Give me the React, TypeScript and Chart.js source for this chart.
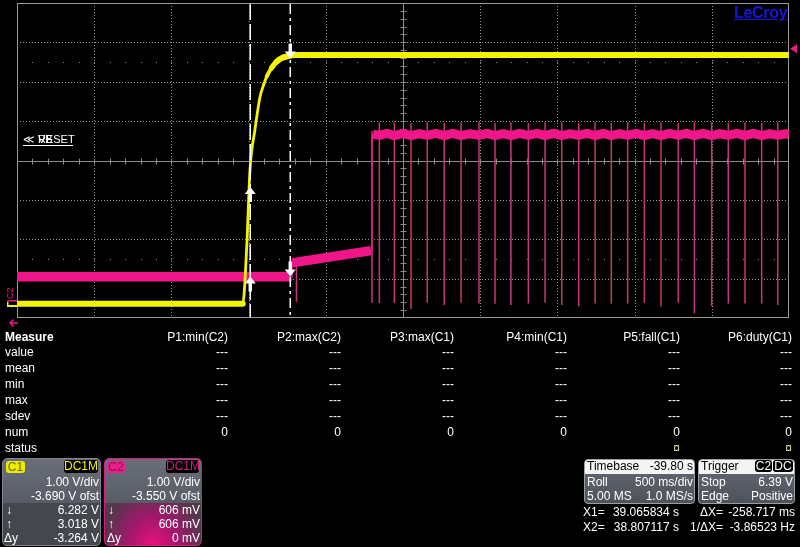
import React, { useEffect, useRef } from "react";
import { Chart, registerables } from "chart.js";
Chart.register(...registerables);

// ---------------- data ----------------
// x axis: milliseconds across the screen (10 div x 500 ms/div)
const TIME_MIN_MS = 0;
const TIME_MAX_MS = 5000;
const TIME_PER_DIV_MS = 500;
// y axes: volts, 1.00 V/div, 8 div
const C1_RANGE = [-0.31, 7.69];
const C2_RANGE = [-0.45, 7.55];

// C1 (yellow)
const C1_TIMES = [0, 1462, 1488, 1509, 1541, 1574, 1598, 1617, 1648, 1682, 1714, 1747, 1800, 5000];
const C1_VOLTS = [0.05, 0.05, 1.5, 3.45, 4.47, 5.31, 5.62, 5.82, 6.04, 6.2, 6.29, 6.33, 6.37, 6.37];

// C2 (pink) band
const C2_TIMES = [
  0, 1779, 1781, 2293, 2299, 2306, 2347, 2395, 2444, 2498, 2552, 2605, 2657, 2712, 2767, 2822,
  2876, 2934, 2992, 3044, 3096, 3148, 3199, 3256, 3312, 3366, 3420, 3474, 3528, 3583, 3638, 3691,
  3744, 3797, 3849, 3902, 3955, 4009, 4063, 4117, 4171, 4227, 4283, 4335, 4387, 4443, 4499, 4553,
  4607, 4661, 4715, 4769, 4823, 4875, 4927, 4975, 5000,
];
const C2_VOLTS = [
  0.6, 0.6, 0.95, 1.26, 4.12, 4.22, 4.19, 4.24, 4.18, 4.24, 4.18, 4.23, 4.19, 4.24, 4.18, 4.24,
  4.18, 4.23, 4.19, 4.24, 4.18, 4.23, 4.18, 4.24, 4.19, 4.24, 4.18, 4.24, 4.18, 4.23, 4.19, 4.24,
  4.18, 4.24, 4.18, 4.23, 4.19, 4.24, 4.18, 4.23, 4.18, 4.24, 4.19, 4.24, 4.18, 4.24, 4.18, 4.23,
  4.19, 4.24, 4.18, 4.24, 4.18, 4.23, 4.19, 4.23, 4.21,
];

// C2 narrow spikes
const C2_SPIKE_TIMES = [
  1810, 2299, 2347, 2444, 2552, 2657, 2767, 2876, 2992, 3096, 3199, 3312, 3420, 3528, 3638, 3744,
  3849, 3955, 4063, 4171, 4283, 4387, 4499, 4607, 4715, 4823, 4927,
];
const C2_SPIKE_TOPS = [
  0.96, 4.3, 4.52, 4.52, 4.5, 4.52, 4.5, 4.52, 4.52, 4.5, 4.52, 4.5, 4.52, 4.52, 4.5, 4.52,
  4.5, 4.52, 4.5, 4.52, 4.5, 4.52, 4.52, 4.5, 4.52, 4.5, 4.52,
];
const C2_SPIKE_BOTTOMS = [
  -0.04, -0.06, -0.07, -0.07, -0.22, -0.06, -0.12, -0.06, -0.08, -0.09, -0.12, -0.08, -0.06, -0.12, -0.15, -0.08,
  -0.09, -0.08, -0.06, -0.16, -0.06, -0.33, -0.15, -0.08, -0.08, -0.08, -0.12,
];

// cursors: X1, X2
const CURSOR_TIMES = [1508, 1767];
const C1_CURSOR_VOLTS = [3.018, 6.282];
const C2_CURSOR_VOLTS = [0.606, 0.606];
const C2_TRIGGER_LEVEL = 6.39;

// readouts
const MEASURE_PARAMS = ["P1:min(C2)", "P2:max(C2)", "P3:max(C1)", "P4:min(C1)", "P5:fall(C1)", "P6:duty(C1)"];
const MEASURE_ROWS = ["value", "mean", "min", "max", "sdev", "num", "status"];
const MEASURE_VALUES = ["---", "---", "---", "---", "---", "0"];
const MEASURE_STATUS = ["", "", "", "", "¤", "¤"];
const C1_INFO = ["1.00 V/div", "-3.690 V ofst", "6.282 V", "3.018 V", "-3.264 V"];
const C2_INFO = ["1.00 V/div", "-3.550 V ofst", "606 mV", "606 mV", "0 mV"];
const TIMEBASE_INFO = ["-39.80 s", "500 ms/div", "5.00 MS", "1.0 MS/s"];
const TRIGGER_INFO = ["6.39 V", "Positive"];
const CURSOR_INFO = ["39.065834 s", "38.807117 s", "-258.717 ms", "-3.86523 Hz"];

// ---------------- chart ----------------
const YELLOW = "#f4f400";
const PINK = "#f0168a";
const SPIKE = "#c4377a";

const scopePlugin = {
  id: "scope",
  beforeDatasetsDraw(chart: any) {
    const { ctx, chartArea: a, scales } = chart;
    const xs = scales.x;
    const ys = scales.y1;
    const px = (v: number) => Math.round(xs.getPixelForValue(v)) + 0.5;
    const py = (v: number) => Math.round(ys.getPixelForValue(v)) + 0.5;
    const line = (x1: number, y1: number, x2: number, y2: number) => {
      ctx.beginPath();
      ctx.moveTo(x1, y1);
      ctx.lineTo(x2, y2);
      ctx.stroke();
    };
    ctx.save();
    ctx.lineWidth = 1;
    ctx.strokeStyle = "#959595";
    ctx.setLineDash([1, 2]);
    for (let i = 1; i < 10; i++) {
      if (i === 5) continue;
      const x = px(TIME_MIN_MS + i * TIME_PER_DIV_MS);
      line(x, a.top, x, a.bottom);
    }
    for (let j = 1; j < 8; j++) {
      if (j === 4) continue;
      const y = py(C1_RANGE[0] + j);
      line(a.left, y, a.right, y);
    }
    ctx.setLineDash([]);
    // minor dot rows
    ctx.fillStyle = "#8a8a8a";
    for (const d of [1.5, 6.5]) {
      const y = Math.round(ys.getPixelForValue(C1_RANGE[0] + d));
      for (let k = 1; k < 50; k++) {
        const x = Math.round(xs.getPixelForValue(TIME_MIN_MS + (k * TIME_PER_DIV_MS) / 5));
        ctx.fillRect(x, y, 1, 1);
      }
    }
    // center cross
    ctx.strokeStyle = "#8c8c8c";
    const cx = px(TIME_MIN_MS + 5 * TIME_PER_DIV_MS);
    const cy = py(C1_RANGE[0] + 4);
    line(a.left, cy, a.right, cy);
    line(cx, a.top, cx, a.bottom);
    for (let k = 1; k < 50; k++) {
      const x = px(TIME_MIN_MS + (k * TIME_PER_DIV_MS) / 5);
      line(x, cy - 3, x, cy + 3);
    }
    for (let k = 1; k < 40; k++) {
      const y = py(C1_RANGE[0] + k / 5);
      line(cx - 3, y, cx + 3, y);
    }
    // frame
    ctx.strokeStyle = "#9a9a9a";
    ctx.strokeRect(a.left + 0.5, a.top + 0.5, a.right - a.left - 1, a.bottom - a.top - 1);
    ctx.restore();
  },
  afterDatasetsDraw(chart: any) {
    const { ctx, chartArea: a, scales } = chart;
    const xs = scales.x;
    const y1 = scales.y1;
    const y2 = scales.y2;
    ctx.save();
    // cursor lines
    ctx.strokeStyle = "#ffffff";
    ctx.lineWidth = 1.5;
    const dashes = [[16, 4], [10, 4, 3, 4]];
    CURSOR_TIMES.forEach((t, i) => {
      const x = Math.round(xs.getPixelForValue(t)) + 0.25;
      ctx.setLineDash(dashes[i]);
      ctx.beginPath();
      ctx.moveTo(x, a.top + 1);
      ctx.lineTo(x, a.bottom - 1);
      ctx.stroke();
    });
    ctx.setLineDash([]);
    // arrows
    const arrow = (x: number, tip: number, dir: number) => {
      ctx.fillStyle = "#ffffff";
      ctx.beginPath();
      ctx.moveTo(x, tip);
      ctx.lineTo(x - 5.5, tip + dir * 7);
      ctx.lineTo(x - 1.7, tip + dir * 7);
      ctx.lineTo(x - 1.7, tip + dir * 15);
      ctx.lineTo(x + 1.7, tip + dir * 15);
      ctx.lineTo(x + 1.7, tip + dir * 7);
      ctx.lineTo(x + 5.5, tip + dir * 7);
      ctx.closePath();
      ctx.fill();
    };
    const x1 = Math.round(xs.getPixelForValue(CURSOR_TIMES[0])) + 0.25;
    const x2 = Math.round(xs.getPixelForValue(CURSOR_TIMES[1])) + 0.25;
    arrow(x1, y1.getPixelForValue(C1_CURSOR_VOLTS[0]), 1);
    arrow(x1, y2.getPixelForValue(C2_CURSOR_VOLTS[0]), 1);
    arrow(x2, y1.getPixelForValue(C1_CURSOR_VOLTS[1]), -1);
    arrow(x2, y2.getPixelForValue(C2_CURSOR_VOLTS[1]), -1);
    ctx.restore();
  },
  afterDraw(chart: any) {
    const { ctx, chartArea: a, scales } = chart;
    const y1 = scales.y1;
    const y2 = scales.y2;
    ctx.save();
    // trigger level marker (C2)
    const ty = y2.getPixelForValue(C2_TRIGGER_LEVEL);
    ctx.fillStyle = PINK;
    ctx.beginPath();
    ctx.moveTo(a.right + 1, ty);
    ctx.lineTo(a.right + 8, ty - 4.5);
    ctx.lineTo(a.right + 8, ty + 4.5);
    ctx.closePath();
    ctx.fill();
    // C2 ground marker
    const g2 = Math.round(y2.getPixelForValue(0));
    ctx.fillStyle = PINK;
    ctx.font = "9px 'Liberation Sans', Arial, sans-serif";
    ctx.translate(13, g2 - 1);
    ctx.rotate(-Math.PI / 2);
    ctx.textAlign = "left";
    ctx.textBaseline = "alphabetic";
    ctx.fillText("C2", 0, 0);
    ctx.setTransform(1, 0, 0, 1, 0, 0);
    ctx.fillRect(7, g2, 10, 1.5);
    // C1 ground marker
    const g1 = Math.round(y1.getPixelForValue(0));
    ctx.fillStyle = YELLOW;
    ctx.fillRect(7, g1 - 1, 10, 2);
    ctx.fillRect(7, g1 - 4, 1.5, 5);
    // left arrow (trigger position)
    ctx.strokeStyle = PINK;
    ctx.lineWidth = 1.5;
    ctx.beginPath();
    ctx.moveTo(18, a.bottom + 5);
    ctx.lineTo(10, a.bottom + 5);
    ctx.moveTo(13.5, a.bottom + 1.5);
    ctx.lineTo(10, a.bottom + 5);
    ctx.lineTo(13.5, a.bottom + 8.5);
    ctx.stroke();
    ctx.restore();
  },
};

function T({
  x,
  y,
  children,
  align = "left",
  color = "#ffffff",
  bold = false,
  size = 12,
}: {
  x: number;
  y: number;
  children: React.ReactNode;
  align?: "left" | "right";
  color?: string;
  bold?: boolean;
  size?: number;
}) {
  const style: React.CSSProperties = {
    position: "absolute",
    top: y - 8,
    lineHeight: "16px",
    fontSize: size,
    color,
    fontWeight: bold ? 700 : 400,
    whiteSpace: "pre",
  };
  if (align === "left") style.left = x;
  else style.right = 800 - x;
  return <div style={style}>{children}</div>;
}

export default function App() {
  const ref = useRef<HTMLCanvasElement>(null);
  useEffect(() => {
    document.body.style.margin = "0";
    document.body.style.background = "#000";
    const c1 = C1_TIMES.map((t, i) => ({ x: t, y: C1_VOLTS[i] }));
    const c2 = C2_TIMES.map((t, i) => ({ x: t, y: C2_VOLTS[i] }));
    const spikes: { x: number; y: number | null }[] = [];
    C2_SPIKE_TIMES.forEach((t, i) => {
      spikes.push({ x: t, y: C2_SPIKE_TOPS[i] });
      spikes.push({ x: t, y: C2_SPIKE_BOTTOMS[i] });
      spikes.push({ x: t, y: null });
    });
    const slopeWidth = (ctx: any, thick: number, thin: number) => {
      const dx = Math.abs(ctx.p1.x - ctx.p0.x);
      const dy = Math.abs(ctx.p1.y - ctx.p0.y);
      const len = Math.hypot(dx, dy) || 1;
      return Math.max(thin, Math.min(thick, (thick * 1.35 * dx) / len));
    };
    const chart = new Chart(ref.current as HTMLCanvasElement, {
      type: "line",
      data: {
        datasets: [
          {
            label: "C1",
            data: c1,
            yAxisID: "y1",
            borderColor: YELLOW,
            borderWidth: 6,
            pointRadius: 0,
            cubicInterpolationMode: "monotone",
            borderCapStyle: "round",
            borderJoinStyle: "round",
            order: 0,
            segment: { borderWidth: (ctx: any) => slopeWidth(ctx, 6, 2.8) },
          } as any,
          {
            label: "C2",
            data: c2,
            yAxisID: "y2",
            borderColor: PINK,
            borderWidth: 9,
            pointRadius: 0,
            tension: 0,
            borderJoinStyle: "round",
            order: 1,
            segment: {
              borderWidth: (ctx: any) => {
                const dx = Math.abs(ctx.p1.x - ctx.p0.x);
                const dy = Math.abs(ctx.p1.y - ctx.p0.y);
                if (dy > 2 * dx) return 1.5;
                return ctx.p0.parsed.y > 3 ? 9 : 9.5;
              },
            },
          } as any,
          {
            label: "C2 spikes",
            data: spikes,
            yAxisID: "y2",
            borderColor: SPIKE,
            borderWidth: 1.5,
            pointRadius: 0,
            spanGaps: false,
            order: 2,
          } as any,
        ],
      },
      options: {
        animation: false,
        responsive: false,
        events: [],
        layout: { padding: { left: 17, top: 3, right: 11, bottom: 229 } },
        plugins: { legend: { display: false }, tooltip: { enabled: false } },
        scales: {
          x: { type: "linear", min: TIME_MIN_MS, max: TIME_MAX_MS, display: false },
          y1: { type: "linear", min: C1_RANGE[0], max: C1_RANGE[1], display: false },
          y2: { type: "linear", min: C2_RANGE[0], max: C2_RANGE[1], display: false },
        },
      },
      plugins: [scopePlugin],
    } as any);
    return () => chart.destroy();
  }, []);

  const colRight = [228, 341, 454, 567, 680, 792];
  const rowY = [352, 368, 384, 400, 416, 432, 448];
  const upper = "linear-gradient(#6a6e78, #585c66)";

  return (
    <div
      style={{
        position: "relative",
        width: 800,
        height: 547,
        background: "#000",
        overflow: "hidden",
        fontFamily: "'Liberation Sans', Arial, sans-serif",
        color: "#fff",
      }}
    >
      <canvas
        ref={ref}
        width={800}
        height={547}
        style={{ position: "absolute", left: 0, top: 0, width: 800, height: 547, display: "block" }}
      />
      {/* in-graticule labels */}
      <div
        style={{
          position: "absolute",
          left: 734,
          top: 4,
          fontSize: 16,
          fontWeight: 700,
          color: "#1616d8",
          textDecoration: "underline",
          lineHeight: "18px",
          letterSpacing: -0.3,
        }}
      >
        LeCroy
      </div>
      <T x={23} y={139} size={11}>≪</T>
      <T x={38} y={139} size={11}>RESET</T>
      <T x={38} y={139} size={11}>VB</T>
      <div style={{ position: "absolute", left: 23, top: 145, width: 50, height: 1, background: "#fff" }} />

      {/* measure table */}
      <T x={5} y={337} bold>Measure</T>
      {MEASURE_ROWS.map((r, i) => (
        <T key={r} x={5} y={rowY[i]}>{r}</T>
      ))}
      {MEASURE_PARAMS.map((p, c) => (
        <React.Fragment key={p}>
          <T x={colRight[c]} y={337} align="right">{p}</T>
          {MEASURE_VALUES.map((v, r) => (
            <T key={r} x={colRight[c]} y={rowY[r]} align="right">{v}</T>
          ))}
          {MEASURE_STATUS[c] ? (
            <T x={colRight[c]} y={rowY[6]} align="right" color="#e6e6a0">{MEASURE_STATUS[c]}</T>
          ) : null}
        </React.Fragment>
      ))}

      {/* C1 box */}
      <div
        style={{
          position: "absolute",
          left: 2,
          top: 458,
          width: 99,
          height: 88,
          boxSizing: "border-box",
          borderRadius: 5,
          border: "1px solid #80848e",
          overflow: "hidden",
          background: "#44474e",
        }}
      >
        <div style={{ position: "absolute", left: 0, top: 0, right: 0, height: 44, background: upper }} />
      </div>
      <div
        style={{
          position: "absolute",
          left: 6,
          top: 461,
          width: 19,
          height: 12,
          background: "#ecec00",
          borderRadius: 3,
          fontSize: 12,
          lineHeight: "12px",
          color: "#6a6a00",
          textAlign: "center",
        }}
      >
        C1
      </div>
      <div
        style={{
          position: "absolute",
          left: 64,
          top: 460,
          width: 34,
          height: 13,
          background: "#000",
          borderRadius: 3,
          fontSize: 12,
          lineHeight: "13px",
          color: "#f0f000",
          textAlign: "center",
        }}
      >
        DC1M
      </div>
      <T x={99} y={482} align="right">{C1_INFO[0]}</T>
      <T x={99} y={496} align="right">{C1_INFO[1]}</T>
      <T x={6} y={510}>↓</T>
      <T x={99} y={510} align="right">{C1_INFO[2]}</T>
      <T x={6} y={524}>↑</T>
      <T x={99} y={524} align="right">{C1_INFO[3]}</T>
      <T x={4} y={538}>Δy</T>
      <T x={99} y={538} align="right">{C1_INFO[4]}</T>

      {/* C2 box */}
      <div
        style={{
          position: "absolute",
          left: 104,
          top: 458,
          width: 98,
          height: 88,
          boxSizing: "border-box",
          borderRadius: 5,
          border: "1.5px solid #d81a82",
          overflow: "hidden",
          background:
            "radial-gradient(ellipse 75% 95% at 50% 100%, #e8107e 0%, #a0186a 35%, #55374c 70%, #45444c 100%)",
        }}
      >
        <div style={{ position: "absolute", left: 0, top: 0, right: 0, height: 44, background: upper }} />
      </div>
      <div
        style={{
          position: "absolute",
          left: 107,
          top: 461,
          width: 18,
          height: 12,
          background: "#e8208c",
          borderRadius: 3,
          fontSize: 12,
          lineHeight: "12px",
          color: "#9a0a52",
          textAlign: "center",
        }}
      >
        C2
      </div>
      <div
        style={{
          position: "absolute",
          left: 166,
          top: 460,
          width: 33,
          height: 13,
          background: "#000",
          borderRadius: 3,
          fontSize: 12,
          lineHeight: "13px",
          color: "#d0207e",
          textAlign: "center",
        }}
      >
        DC1M
      </div>
      <T x={200} y={482} align="right">{C2_INFO[0]}</T>
      <T x={200} y={496} align="right">{C2_INFO[1]}</T>
      <T x={108} y={510}>↓</T>
      <T x={200} y={510} align="right">{C2_INFO[2]}</T>
      <T x={108} y={524}>↑</T>
      <T x={200} y={524} align="right">{C2_INFO[3]}</T>
      <T x={107} y={538}>Δy</T>
      <T x={200} y={538} align="right">{C2_INFO[4]}</T>

      {/* Timebase box */}
      <div
        style={{
          position: "absolute",
          left: 584,
          top: 459,
          width: 111,
          height: 45,
          boxSizing: "border-box",
          borderRadius: 4,
          border: "1px solid #9a9ea6",
          overflow: "hidden",
          background: "linear-gradient(#666a74, #4e525a)",
        }}
      >
        <div style={{ position: "absolute", left: 0, top: 0, right: 0, height: 14, background: "#f4f4f4" }} />
      </div>
      <T x={587} y={466} color="#000">Timebase</T>
      <T x={693} y={466} align="right" color="#000">{TIMEBASE_INFO[0]}</T>
      <T x={587} y={482}>Roll</T>
      <T x={693} y={482} align="right">{TIMEBASE_INFO[1]}</T>
      <T x={587} y={496}>{TIMEBASE_INFO[2]}</T>
      <T x={693} y={496} align="right">{TIMEBASE_INFO[3]}</T>

      {/* Trigger box */}
      <div
        style={{
          position: "absolute",
          left: 698,
          top: 459,
          width: 97,
          height: 45,
          boxSizing: "border-box",
          borderRadius: 4,
          border: "1px solid #9a9ea6",
          overflow: "hidden",
          background: "linear-gradient(#666a74, #4e525a)",
        }}
      >
        <div style={{ position: "absolute", left: 0, top: 0, right: 0, height: 14, background: "#f4f4f4" }} />
      </div>
      <T x={701} y={466} color="#000">Trigger</T>
      <div
        style={{
          position: "absolute",
          left: 755,
          top: 460,
          width: 17,
          height: 12,
          background: "#000",
          borderRadius: 3,
          fontSize: 12,
          lineHeight: "12px",
          color: "#fff",
          textAlign: "center",
        }}
      >
        C2
      </div>
      <div
        style={{
          position: "absolute",
          left: 773,
          top: 460,
          width: 20,
          height: 12,
          background: "#000",
          borderRadius: 3,
          fontSize: 12,
          lineHeight: "12px",
          color: "#fff",
          textAlign: "center",
        }}
      >
        DC
      </div>
      <T x={701} y={482}>Stop</T>
      <T x={793} y={482} align="right">{TRIGGER_INFO[0]}</T>
      <T x={701} y={496}>Edge</T>
      <T x={793} y={496} align="right">{TRIGGER_INFO[1]}</T>

      {/* cursor readouts */}
      <T x={583} y={512}>X1=</T>
      <T x={679} y={512} align="right">{CURSOR_INFO[0]}</T>
      <T x={723} y={512} align="right">ΔX=</T>
      <T x={795} y={512} align="right">{CURSOR_INFO[2]}</T>
      <T x={583} y={527}>X2=</T>
      <T x={679} y={527} align="right">{CURSOR_INFO[1]}</T>
      <T x={723} y={527} align="right">1/ΔX=</T>
      <T x={795} y={527} align="right">{CURSOR_INFO[3]}</T>
    </div>
  );
}
